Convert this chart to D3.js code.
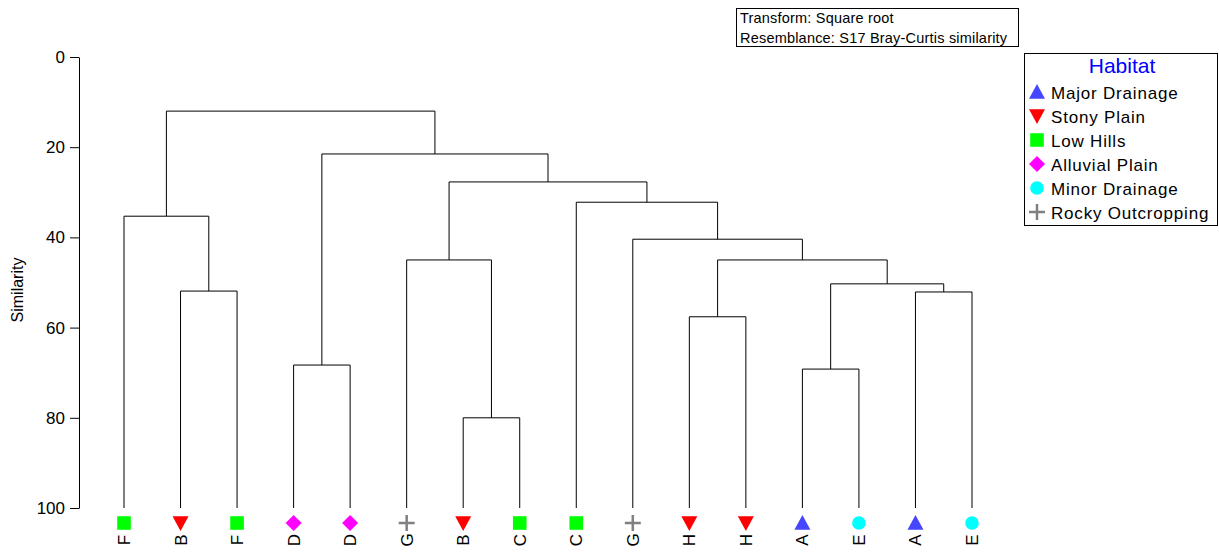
<!DOCTYPE html>
<html>
<head>
<meta charset="utf-8">
<script src="https://cdn.jsdelivr.net/npm/d3@7"></script>
<style>
  html, body { margin: 0; padding: 0; background: #fff; }
  svg { display: block; font-family: "Liberation Sans", Arial, sans-serif; }
</style>
</head>
<body>
<svg id="chart" width="1219" height="555"></svg>
<script>
// Sample labels and their habitat, in dendrogram leaf order
const leafLabels = ["F","B","F","D","D","G","B","C","C","G","H","H","A","E","A","E"];
const leafHabitats = ["Low Hills","Stony Plain","Low Hills","Alluvial Plain","Alluvial Plain",
  "Rocky Outcropping","Stony Plain","Low Hills","Low Hills","Rocky Outcropping",
  "Stony Plain","Stony Plain","Major Drainage","Minor Drainage","Major Drainage","Minor Drainage"];

// Linkage: [left node, right node, similarity]; ids >= 16 refer to earlier merges (16 + row)
const merges = [
  [6, 7, 80.0],
  [12, 13, 69.2],
  [3, 4, 68.3],
  [10, 11, 57.6],
  [14, 15, 52.1],
  [1, 2, 51.9],
  [17, 20, 50.3],
  [5, 16, 45.0],
  [19, 22, 45.0],
  [9, 24, 40.4],
  [0, 21, 35.3],
  [8, 25, 32.2],
  [23, 27, 27.7],
  [18, 28, 21.5],
  [26, 29, 12.0]
];

const habitats = ["Major Drainage","Stony Plain","Low Hills","Alluvial Plain","Minor Drainage","Rocky Outcropping"];
const habitatColors = ["#4646ff","#ff0000","#00ff00","#ff00ff","#00ffff","#808080"];
const habitatShapes = ["triangleUp","triangleDown","square","diamond","circle","plus"];

const yTicks = [0, 20, 40, 60, 80, 100];

const svg = d3.select("#chart");

const x = d3.scalePoint().domain(d3.range(leafLabels.length)).range([124, 972]);
const y = d3.scaleLinear().domain([0, 100]).range([57, 508]);

// Axis
const axis = d3.axisLeft(y).tickValues(yTicks).tickSize(9).tickPadding(5).tickSizeOuter(0);
const gAxis = svg.append("g").attr("transform", "translate(79,0)").call(axis);
gAxis.select(".domain").attr("stroke", "#000");
gAxis.selectAll(".tick line").attr("stroke", "#000");
gAxis.selectAll(".tick text").attr("font-size", 17).attr("fill", "#000")
  .attr("font-family", "Liberation Sans, Arial, sans-serif");

svg.append("text")
  .attr("transform", "translate(23,290) rotate(-90)")
  .attr("text-anchor", "middle")
  .attr("font-size", 16)
  .text("Similarity");

// Node positions
const nodeX = leafLabels.map((d, i) => x(i));
const nodeS = leafLabels.map(() => 100);
const links = svg.append("g").attr("fill", "none").attr("stroke", "#000").attr("stroke-width", 1);
merges.forEach(([a, b, s]) => {
  const xa = nodeX[a], xb = nodeX[b];
  const p = d3.path();
  p.moveTo(xa, y(nodeS[a]));
  p.lineTo(xa, y(s));
  p.lineTo(xb, y(s));
  p.lineTo(xb, y(nodeS[b]));
  links.append("path").attr("d", p.toString());
  nodeX.push((xa + xb) / 2);
  nodeS.push(s);
});

// Symbol drawing
function symbolPath(shape, size) {
  const h = size / 2;
  switch (shape) {
    case "triangleUp": return `M0,${-h}L${h},${h * 0.85}L${-h},${h * 0.85}Z`;
    case "triangleDown": return `M0,${h}L${h},${-h * 0.85}L${-h},${-h * 0.85}Z`;
    case "square": return `M${-h * 0.85},${-h * 0.85}h${h * 1.7}v${h * 1.7}h${-h * 1.7}Z`;
    case "diamond": return `M0,${-h}L${h},0L0,${h}L${-h},0Z`;
    case "circle": return d3.symbol(d3.symbolCircle, Math.PI * (h * 0.85) * (h * 0.85))();
    case "plus": return `M${-h},0H${h}M0,${-h}V${h}`;
  }
}
function drawSymbol(g, habitat, cx, cy, size) {
  const k = habitats.indexOf(habitat);
  const shape = habitatShapes[k], col = habitatColors[k];
  const el = g.append("path")
    .attr("transform", `translate(${cx},${cy})`)
    .attr("d", symbolPath(shape, size));
  if (shape === "plus") el.attr("fill", "none").attr("stroke", col).attr("stroke-width", 2.5);
  else el.attr("fill", col).attr("stroke", "none");
}

const leafG = svg.append("g");
leafLabels.forEach((lab, i) => {
  drawSymbol(leafG, leafHabitats[i], x(i), 523, 16);
  leafG.append("text")
    .attr("transform", `translate(${x(i) + 6},540) rotate(-90)`)
    .attr("text-anchor", "middle")
    .attr("font-size", 17)
    .text(lab);
});

// Info box
const info = svg.append("g");
info.append("rect").attr("x", 736.5).attr("y", 8.5).attr("width", 282).attr("height", 38)
  .attr("fill", "#fff").attr("stroke", "#000");
info.append("text").attr("x", 740).attr("y", 23).attr("font-size", 14.5).attr("letter-spacing", 0.2)
  .text("Transform: Square root");
info.append("text").attr("x", 740).attr("y", 43).attr("font-size", 14.5).attr("letter-spacing", 0.2)
  .text("Resemblance: S17 Bray-Curtis similarity");

// Legend
const leg = svg.append("g");
leg.append("rect").attr("x", 1024.5).attr("y", 53.5).attr("width", 193).attr("height", 172)
  .attr("fill", "#fff").attr("stroke", "#000");
leg.append("text").attr("x", 1122).attr("y", 73).attr("text-anchor", "middle")
  .attr("font-size", 21).attr("fill", "#0000ff").text("Habitat");
habitats.forEach((h, i) => {
  const cy = 92 + i * 24;
  drawSymbol(leg, h, 1037, cy, 16);
  leg.append("text").attr("x", 1051).attr("y", cy + 6.5).attr("font-size", 17)
    .attr("letter-spacing", 0.8).text(h);
});
</script>
</body>
</html>
